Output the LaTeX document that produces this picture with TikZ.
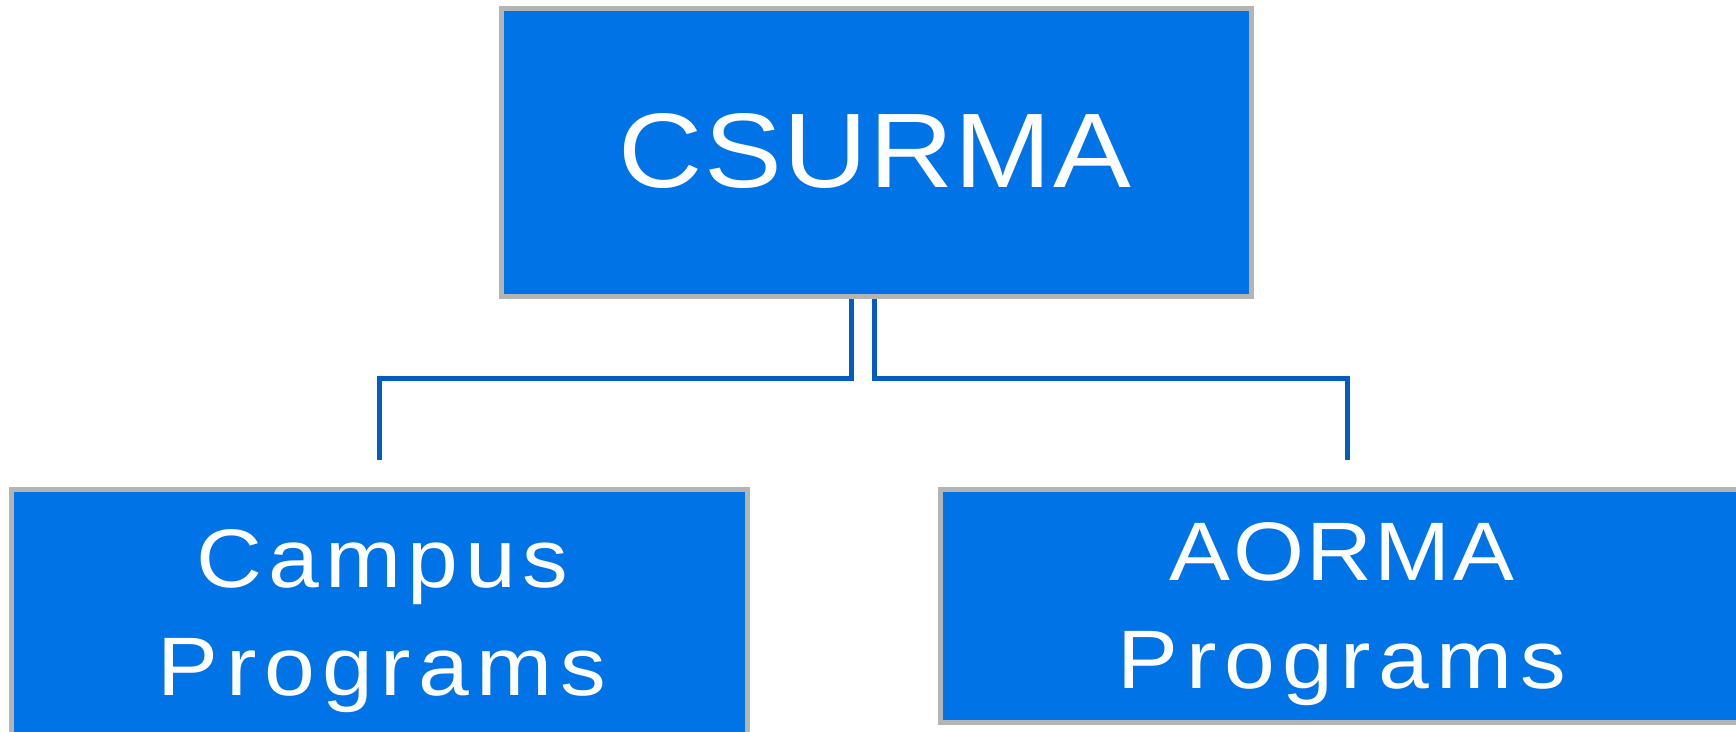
\documentclass[tikz,border=0pt]{standalone}
\usepackage{graphicx}
\usepackage{fontspec}
\setmainfont{Liberation Sans}
\newfontfamily\trackTop[LetterSpace=1.3]{Liberation Sans}
\newfontfamily\trackCap[LetterSpace=2.6]{Liberation Sans}
\newfontfamily\trackCampus[LetterSpace=7]{Liberation Sans}
\newfontfamily\trackProg[LetterSpace=8.2]{Liberation Sans}
\newcommand{\widetxt}[1]{\scalebox{1.1}[1]{#1}}
\definecolor{boxblue}{RGB}{0,116,230}
\definecolor{boxgray}{RGB}{180,180,180}
\definecolor{lineblue}{RGB}{5,92,190}
\tikzset{
  orgbox/.style={rectangle, draw=boxgray, fill=boxblue, line width=5pt, inner sep=0pt},
  boxtext/.style={text=white, inner sep=0pt, anchor=base},
  conn/.style={draw=lineblue, line width=5pt, line join=miter, line cap=butt},
}
\begin{document}
\begin{tikzpicture}[x=1pt,y=-1pt]
\useasboundingbox (0,0) rectangle (1736,731);
\clip (0,0) rectangle (1736,731);
% boxes
\node[orgbox, minimum width=750.5pt, minimum height=287.8pt] (top) at (876.25,152.6) {};
\node[orgbox, minimum width=735.3pt, minimum height=250.5pt] (campus) at (379.35,614.75) {};
\node[orgbox, minimum width=801pt, minimum height=232.5pt] (aorma) at (1341,605.75) {};
% texts
\node[boxtext, font=\trackTop\fontsize{106}{127}\selectfont] (ttop) at (875,187.7) {\widetxt{CSURMA}};
\node[boxtext, font=\trackCampus\fontsize{83}{100}\selectfont] (tcampus1) at (382,587) {\widetxt{Campus}};
\node[boxtext, font=\trackProg\fontsize{83}{100}\selectfont] (tcampus2) at (382,695) {\widetxt{Programs}};
\node[boxtext, font=\trackCap\fontsize{83}{100}\selectfont] (taorma1) at (1342,580) {\widetxt{AORMA}};
\node[boxtext, font=\trackProg\fontsize{83}{100}\selectfont] (taorma2) at (1342,688) {\widetxt{Programs}};
% connector ends
\coordinate (lend) at (379.2,460);
\coordinate (rend) at (1347.7,460);
\draw[conn] ([xshift=-24.45pt]top.south) -- ++(0,79.3) -| (lend);
\draw[conn] ([xshift=-1.45pt]top.south) -- ++(0,79.3) -| (rend);
\end{tikzpicture}
\end{document}
